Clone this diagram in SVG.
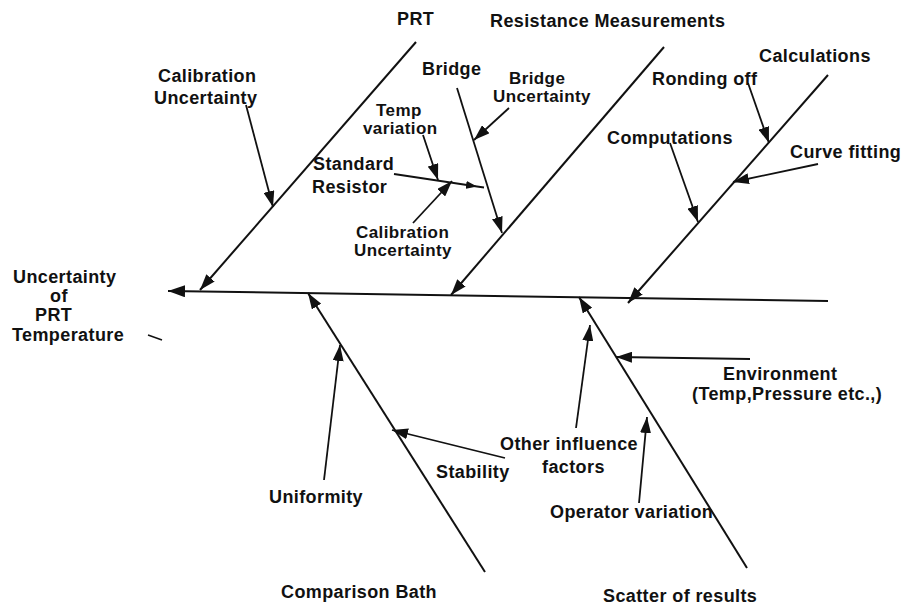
<svg xmlns="http://www.w3.org/2000/svg" width="905" height="613" viewBox="0 0 905 613">
  <style>
    text { font-family: "Liberation Sans", Arial, sans-serif; font-weight: bold; font-size: 18px; letter-spacing: 0.4px; fill: #111; }
    .tight { font-size: 17px; }
    .bone { stroke: #111; stroke-width: 2; fill: none; }
    .cause { stroke: #111; stroke-width: 1.8; fill: none; marker-end: url(#head); }
  </style>
  <defs>
    <marker id="head" markerUnits="userSpaceOnUse" markerWidth="17" markerHeight="11" refX="16" refY="5.5" orient="auto">
      <path d="M0,0 L16,5.5 L0,11 z" fill="#111"/>
    </marker>
    <marker id="spinehead" markerUnits="userSpaceOnUse" markerWidth="18" markerHeight="12" refX="17" refY="6" orient="auto">
      <path d="M0,0 L17,6 L0,12 z" fill="#111"/>
    </marker>
    <marker id="small" markerUnits="userSpaceOnUse" markerWidth="12" markerHeight="8" refX="11" refY="4" orient="auto">
      <path d="M0,0 L11,4 L0,8 z" fill="#111"/>
    </marker>
  </defs>

  <rect width="905" height="613" fill="#fff"/>

  <!-- main spine and category bones -->
  <g id="connectors">
    <path class="bone" d="M828,301 L168,291" marker-end="url(#spinehead)"/>
    <path class="bone" d="M416,42 L200,290" marker-end="url(#head)"/>
    <path class="bone" d="M664,47 L451,295" marker-end="url(#head)"/>
    <path class="bone" d="M828,75 L628,303" marker-end="url(#head)"/>
    <path class="bone" d="M485,572 L308,293" marker-end="url(#head)"/>
    <path class="bone" d="M747,568 L579,297" marker-end="url(#head)"/>

    <!-- PRT causes -->
    <path class="cause" d="M246,105 L273,207"/>
    <!-- Resistance measurement causes -->
    <path class="cause" d="M457,88 L502,233"/>
    <path class="cause" d="M509,108 L474,140"/>
    <path class="cause" d="M423,135 L438,180"/>
    <path class="cause" d="M413,223 L452,181"/>
    <polyline points="394,174 477,186.5 484,187.5" fill="none" stroke="#111" stroke-width="1.8" marker-mid="url(#small)"/>
    <!-- Calculation causes -->
    <path class="cause" d="M748,83 L769,143"/>
    <path class="cause" d="M818,164 L733,182"/>
    <path class="cause" d="M670,143 L698,222"/>
    <!-- Comparison bath causes -->
    <path class="cause" d="M324,480 L340,345"/>
    <path class="cause" d="M505,458 L392,430"/>
    <!-- Scatter causes -->
    <path class="cause" d="M576,428 L590,325"/>
    <path class="cause" d="M750,359 L616,357"/>
    <path class="cause" d="M639,503 L647,417"/>

    <!-- stray tick -->
    <path d="M148,335 L162,340" stroke="#111" stroke-width="1.5"/>
  </g>

  <g id="effect">
    <text x="13" y="283">Uncertainty</text>
    <text x="50" y="302">of</text>
    <text x="35" y="321">PRT</text>
    <text x="12" y="341">Temperature</text>
  </g>

  <g id="prt">
    <text x="397" y="25">PRT</text>
    <text x="158" y="82">Calibration</text>
    <text x="154" y="104">Uncertainty</text>
  </g>

  <g id="resistance-measurements">
    <text x="490" y="27">Resistance Measurements</text>
    <text x="422" y="75">Bridge</text>
    <text class="tight" x="509" y="84">Bridge</text>
    <text class="tight" x="493" y="102">Uncertainty</text>
    <text class="tight" x="376" y="116">Temp</text>
    <text class="tight" x="363" y="134">variation</text>
    <text x="313" y="170">Standard</text>
    <text x="312" y="193">Resistor</text>
    <text class="tight" x="356" y="238">Calibration</text>
    <text class="tight" x="354" y="256">Uncertainty</text>
  </g>

  <g id="calculations">
    <text x="759" y="62">Calculations</text>
    <text x="652" y="85">Ronding off</text>
    <text x="607" y="144">Computations</text>
    <text x="790" y="158">Curve fitting</text>
  </g>

  <g id="comparison-bath">
    <text x="269" y="503">Uniformity</text>
    <text x="436" y="478">Stability</text>
    <text x="281" y="598">Comparison Bath</text>
  </g>

  <g id="scatter">
    <text x="500" y="450">Other influence</text>
    <text x="542" y="473">factors</text>
    <text x="550" y="518">Operator variation</text>
    <text x="723" y="380">Environment</text>
    <text x="692" y="400">(Temp,Pressure etc.,)</text>
    <text x="603" y="602">Scatter of results</text>
  </g>
</svg>
